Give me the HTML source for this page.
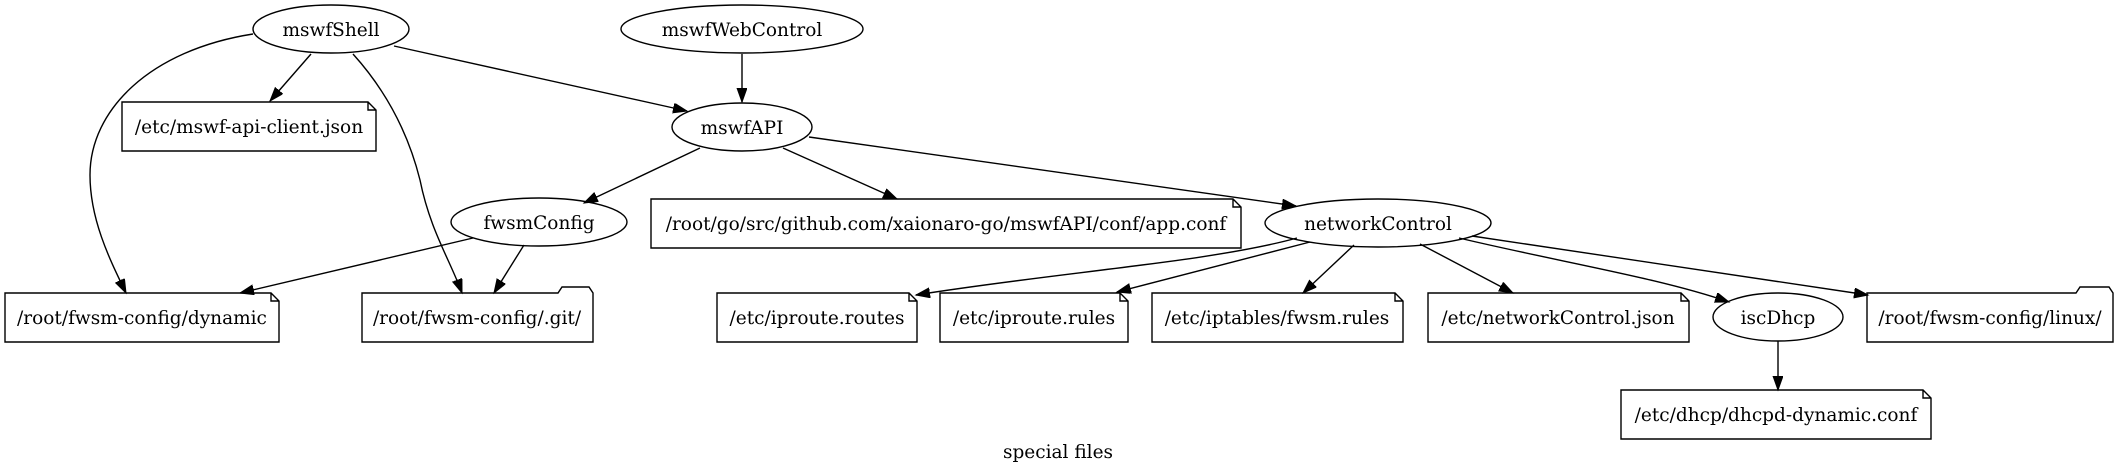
<!DOCTYPE html>
<html><head><meta charset="utf-8"><style>
html,body{margin:0;padding:0;background:#fff;}
svg{display:block;}
text{font-family:"DejaVu Serif","Liberation Serif",serif;font-size:18.5px;fill:#000;}
</style></head><body>
<svg width="2117" height="473" viewBox="0 0 2117 473" xmlns="http://www.w3.org/2000/svg">
<defs>
<marker id="a" markerUnits="userSpaceOnUse" markerWidth="16" markerHeight="12" refX="14" refY="5" orient="auto">
<path d="M0,0 L14,5 L0,10 z" fill="#000" stroke="#000" stroke-width="1"/>
</marker>
</defs>
<g fill="none" stroke="#000" stroke-width="1.4">
<!-- ellipses -->
<ellipse cx="331" cy="29" rx="78" ry="24" fill="#fff"/>
<ellipse cx="742" cy="29" rx="121" ry="24" fill="#fff"/>
<ellipse cx="742" cy="127" rx="70" ry="24" fill="#fff"/>
<ellipse cx="539" cy="222" rx="88" ry="24" fill="#fff"/>
<ellipse cx="1378" cy="223" rx="113" ry="24" fill="#fff"/>
<ellipse cx="1778" cy="317" rx="65" ry="24" fill="#fff"/>
<!-- note boxes -->
<path d="M122,102 H368 L376,110 V151 H122 Z M368,102 V110 H376"/>
<path d="M651,199 H1233 L1241,207 V248 H651 Z M1233,199 V207 H1241"/>
<path d="M5,293 H271 L279,301 V342 H5 Z M271,293 V301 H279"/>
<path d="M717,293 H909 L917,301 V342 H717 Z M909,293 V301 H917"/>
<path d="M940,293 H1120 L1128,301 V342 H940 Z M1120,293 V301 H1128"/>
<path d="M1152,293 H1395 L1403,301 V342 H1152 Z M1395,293 V301 H1403"/>
<path d="M1428,293 H1681 L1689,301 V342 H1428 Z M1681,293 V301 H1689"/>
<path d="M1621,390 H1923 L1931,398 V439 H1621 Z M1923,390 V398 H1931"/>
<!-- folders -->
<path d="M362,293 H558 L562,287 H589 L593,293 V342 H362 Z"/>
<path d="M1867,293 H2076 L2080,287 H2109 L2113,293 V342 H1867 Z"/>
<!-- edges -->
<g marker-end="url(#a)">
<path d="M311,54 L270,101"/>
<path d="M253,34 C150,50 90,110 90,175 C90,220 110,260 126,293"/>
<path d="M353,54 C390,95 410,140 420,180 C430,230 450,260 462,293"/>
<path d="M394,46 L687,111"/>
<path d="M742,54 L742,102"/>
<path d="M700,148 L584,203"/>
<path d="M783,148 L897,199"/>
<path d="M809,137 L1296,206"/>
<path d="M473,238 L240,293"/>
<path d="M524,245 L494,293"/>
<path d="M1297,238 C1210,262 1060,272 916,295"/>
<path d="M1310,242 L1117,292"/>
<path d="M1354,245 L1303,293"/>
<path d="M1420,244 L1513,293"/>
<path d="M1459,238 C1560,262 1660,278 1729,302"/>
<path d="M1472,236 L1868,295"/>
<path d="M1778,341 L1778,390"/>
</g>
</g>
<g text-anchor="middle">
<text x="331" y="36">mswfShell</text>
<text x="742" y="36">mswfWebControl</text>
<text x="742" y="134">mswfAPI</text>
<text x="539" y="229">fwsmConfig</text>
<text x="1378" y="230">networkControl</text>
<text x="1778" y="324">iscDhcp</text>
<text x="249" y="133">/etc/mswf-api-client.json</text>
<text x="946" y="230">/root/go/src/github.com/xaionaro-go/mswfAPI/conf/app.conf</text>
<text x="142" y="324">/root/fwsm-config/dynamic</text>
<text x="477" y="324">/root/fwsm-config/.git/</text>
<text x="817" y="324">/etc/iproute.routes</text>
<text x="1034" y="324">/etc/iproute.rules</text>
<text x="1277" y="324">/etc/iptables/fwsm.rules</text>
<text x="1558" y="324">/etc/networkControl.json</text>
<text x="1990" y="324">/root/fwsm-config/linux/</text>
<text x="1776" y="421">/etc/dhcp/dhcpd-dynamic.conf</text>
<text x="1058" y="458">special files</text>
</g>
</svg>
</body></html>
